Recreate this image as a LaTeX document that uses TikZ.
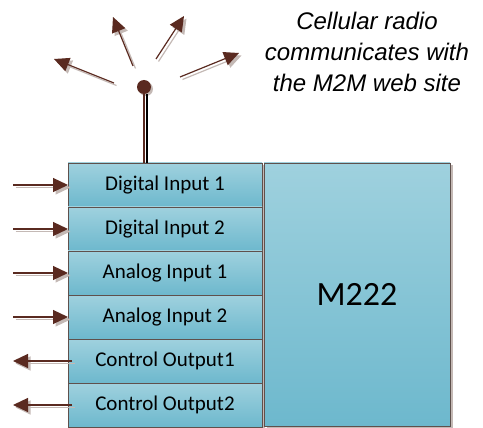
\documentclass[tikz,border=0pt]{standalone}
\usepackage{fontspec}
\setmainfont{Carlito}
\newfontfamily\capfont{Liberation Sans}
\usetikzlibrary{arrows.meta,positioning,shadows}

\definecolor{wire}{HTML}{5A2A20}
\definecolor{edge}{HTML}{5F504C}
\definecolor{shade}{HTML}{C4B9B5}
\definecolor{boxtop}{HTML}{9FD1DE}
\definecolor{boxbot}{HTML}{6DB8CD}

\begin{document}
\begin{tikzpicture}[
    x=1pt, y=-1pt,
    port/.style={draw=edge, line width=0.9pt, top color=boxtop, bottom color=boxbot,
        minimum width=194pt, minimum height=44pt, inner sep=0pt, outer sep=0pt,
        font=\fontsize{21}{25}\selectfont,
        drop shadow={shadow xshift=2.5pt, shadow yshift=-2.5pt, fill=shade, opacity=1}},
    sig/.style={draw=wire, line width=1.2pt, -{Triangle[length=15pt,width=14pt]}},
    ghost/.style={draw=shade, line width=1.2pt, -{Triangle[length=15pt,width=14pt]},
        transform canvas={shift={(2.5,2.5)}}}
]
\useasboundingbox (0,0) rectangle (483,428);

% caption
\node[font=\capfont\itshape\fontsize{24}{31}\selectfont, align=center] (note) at (367,52)
    {Cellular radio\\communicates with\\the M2M web site};

% I/O rows
\node[port] (din1) at (165,185) {Digital Input 1};
\node[port, below=0pt of din1] (din2) {Digital Input 2};
\node[port, below=0pt of din2] (ain1) {Analog Input 1};
\node[port, below=0pt of ain1] (ain2) {Analog Input 2};
\node[port, below=0pt of ain2] (cout1) {Control Output1};
\node[port, below=0pt of cout1] (cout2) {Control Output2};

% main unit
\node[port, minimum width=186pt, minimum height=263pt, font=\fontsize{34}{40}\selectfont]
    (m222) at (357,294.5) {M222};

% antenna
\node[circle, fill=wire, minimum size=14pt, inner sep=0pt,
    drop shadow={shadow xshift=2pt, shadow yshift=-2pt, fill=shade, opacity=1}] (dot) at (144,87) {};
\draw[shade, line width=1.2pt] ([xshift=3pt]dot.south) -- ([xshift=3pt]dot |- din1.north);
\draw[wire, line width=1.2pt] (dot) -- (dot |- din1.north);

\coordinate (r1a) at (114,83);  \coordinate (r1b) at (54,59);
\coordinate (r2a) at (133,66);  \coordinate (r2b) at (113,17);
\coordinate (r3a) at (156,59);  \coordinate (r3b) at (184,16);
\coordinate (r4a) at (180,77);  \coordinate (r4b) at (239,53);
\foreach \s/\t in {r1a/r1b, r2a/r2b, r3a/r3b, r4a/r4b} {
    \draw[ghost] (\s) -- (\t);
    \draw[sig] (\s) -- (\t);
}

% inputs
\foreach \n in {din1,din2,ain1,ain2} {
    \coordinate[left=55pt of \n.west] (\n-src);
    \draw[ghost] (\n-src) -- (\n.west);
    \draw[sig] (\n-src) -- (\n.west);
}

% outputs
\foreach \n in {cout1,cout2} {
    \coordinate[left=55pt of \n.west] (\n-dst);
    \draw[ghost] ([xshift=4pt]\n.west) -- (\n-dst);
    \draw[sig] ([xshift=4pt]\n.west) -- (\n-dst);
}
\end{tikzpicture}
\end{document}
